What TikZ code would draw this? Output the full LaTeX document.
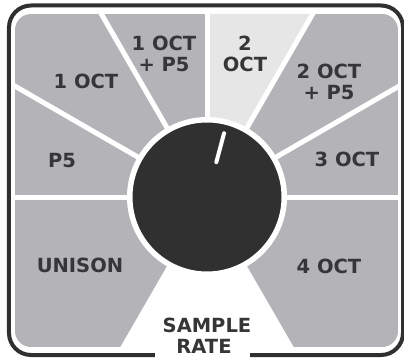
\documentclass[tikz,border=0pt]{standalone}
\usepackage{fontspec}
\setmainfont{DejaVu Sans}
\definecolor{panelgray}{RGB}{180,180,184}
\definecolor{selgray}{RGB}{230,230,230}
\definecolor{knobgray}{RGB}{48,48,48}
\definecolor{inkgray}{RGB}{54,54,56}
\tikzset{
  lbl/.style={text=inkgray, font=\bfseries\fontsize{19.5}{21}\selectfont, align=center, inner sep=0pt},
  sep/.style={white, line width=5pt},
}
\begin{document}
\begin{tikzpicture}[x=1pt, y=1pt]
  \useasboundingbox (-207,-162) rectangle (197,197);
  \fill[white] (-207,-162) rectangle (197,197);

  % outer frame, open at the bottom for the caption
  \draw[knobgray, line width=4pt, rounded corners=22pt]
    (-52,-158) -- (-198,-158) -- (-198,191.5) -- (196,191.5) -- (196,-158) -- (43,-158);

  % switch positions as sectors around the knob
  \begin{scope}
    \clip[rounded corners=16pt] (-192,-150) rectangle (191,183);
    \fill[panelgray] (-192,-150) rectangle (191,183);
    \fill[selgray] (0,0) -- (60:400) -- (90:400) -- cycle;
    \fill[white] (0,0) -- (-120:400) -- (-60:400) -- cycle;
    \foreach \a in {0,30,...,180} \draw[sep] (0,0) -- (\a:400);
  \end{scope}

  % knob with pointer
  \node[circle, fill=knobgray, draw=white, line width=5.5pt, minimum size=154.5pt, inner sep=0pt] (knob) at (0,0) {};
  \draw[white, line width=4pt, line cap=round] (75:36) -- (75:66);

  % position labels
  \node[lbl] (p5)     at (-145,36)    {P5};
  \node[lbl] (oct1)   at (-121,116)   {1 OCT};
  \node[lbl] (oct1p)  at (-43,143.5)  {1 OCT\\+ P5};
  \node[lbl] (oct2)   at (38,143.5)   {2\\OCT};
  \node[lbl] (oct2p)  at (122,115.5)  {2 OCT\\+ P5};
  \node[lbl] (oct3)   at (140,38)     {3 OCT};
  \node[lbl] (unison) at (-127,-68)   {UNISON};
  \node[lbl] (oct4)   at (122,-69)    {4 OCT};

  % caption
  \node[lbl] (sample) at (0,-128.5)  {SAMPLE};
  \node[lbl] (rate)   at (-3,-149.5) {RATE};
\end{tikzpicture}
\end{document}
